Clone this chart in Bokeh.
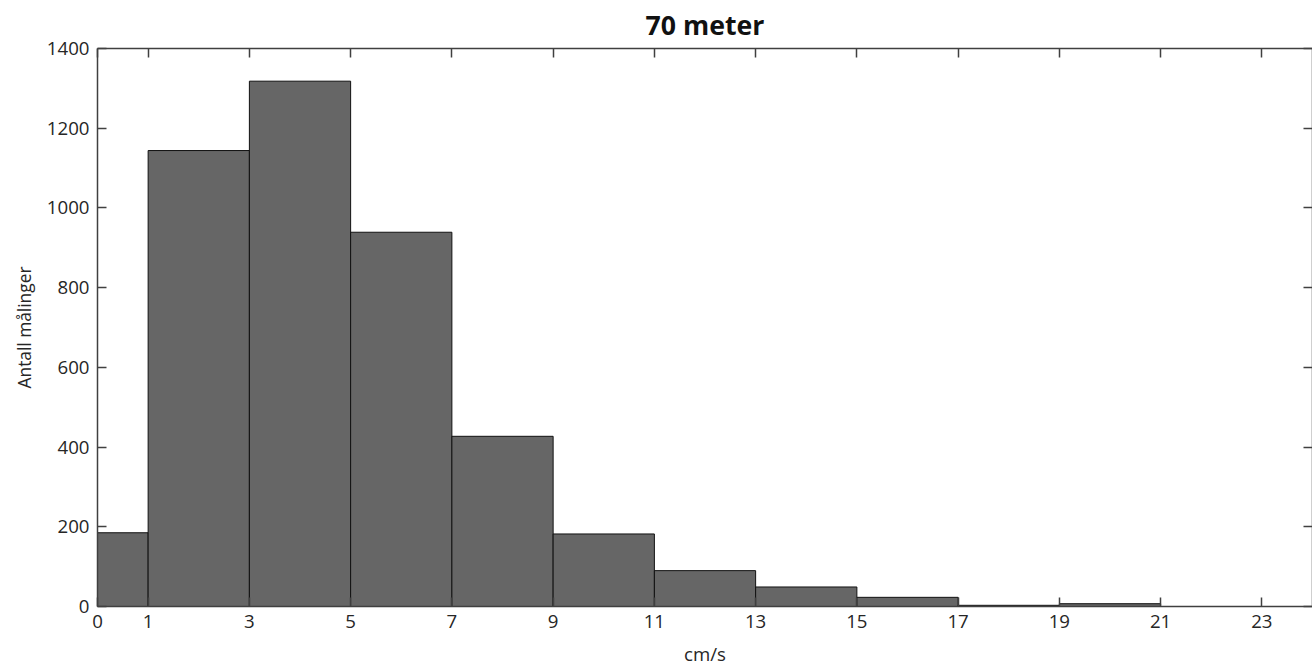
from bokeh.plotting import figure
from bokeh.models import LinearAxis, FixedTicker, Range1d, ColumnDataSource
from bokeh.embed import file_html
from bokeh.resources import INLINE

bin_left = [0, 1, 3, 5, 7, 9, 11, 13, 15, 17, 19]
bin_right = [1, 3, 5, 7, 9, 11, 13, 15, 17, 19, 21]
counts = [185, 1144, 1318, 939, 427, 182, 90, 49, 23, 3, 7]
x_ticks = [0, 1, 3, 5, 7, 9, 11, 13, 15, 17, 19, 21, 23]
y_ticks = [0, 200, 400, 600, 800, 1000, 1200, 1400]

FONT = "Open Sans"
AX = "#404040"
TXT = "#262626"

p = figure(width=1312, height=669, output_backend="svg", toolbar_location=None,
           x_range=Range1d(0, 24), y_range=Range1d(0, 1400),
           title="70 meter", min_border_left=97, min_border_right=0,
           min_border_top=48, min_border_bottom=63,
           x_axis_label="cm/s", y_axis_label="Antall målinger")

src = ColumnDataSource(dict(left=bin_left, right=bin_right, top=counts,
                            bottom=[0] * len(counts)))
p.quad(left="left", right="right", top="top", bottom="bottom", source=src,
       fill_color="#666666", line_color="#111111", line_width=1)

p.grid.visible = False
p.outline_line_color = None
p.background_fill_color = "white"

p.title.align = "center"
p.title.text_font = FONT
p.title.text_font_size = "20pt"
p.title.text_font_style = "bold"
p.title.text_color = "#111111"
p.title.offset = 0
p.title.standoff = 8
p.title.vertical_align = "top"

def style(ax, ticks, labels=True):
    ax.ticker = FixedTicker(ticks=ticks)
    ax.minor_tick_line_color = None
    ax.major_tick_in = 9
    ax.major_tick_out = 0
    ax.axis_line_color = AX
    ax.major_tick_line_color = AX
    ax.axis_line_width = 1.5
    ax.major_tick_line_width = 1.5
    ax.major_label_text_font = FONT
    ax.major_label_text_font_size = "14pt"
    ax.major_label_text_color = TXT if labels else None
    ax.axis_label_text_font = FONT
    ax.axis_label_text_font_size = "14pt"
    ax.axis_label_text_font_style = "normal"
    ax.axis_label_text_color = TXT

style(p.xaxis[0], x_ticks)
style(p.yaxis[0], y_ticks)
p.yaxis[0].axis_label_text_font_size = "13pt"
p.xaxis[0].major_label_standoff = 8
p.xaxis[0].axis_label_standoff = 10
p.yaxis[0].major_label_standoff = 8
p.yaxis[0].axis_label_standoff = 8

top_ax = LinearAxis()
style(top_ax, x_ticks, labels=False)
top_ax.major_label_text_font_size = "0pt"
p.add_layout(top_ax, "above")

right_ax = LinearAxis()
style(right_ax, y_ticks, labels=False)
right_ax.major_label_text_font_size = "0pt"
p.add_layout(right_ax, "right")

open("out.html", "w").write(file_html(p, INLINE))
